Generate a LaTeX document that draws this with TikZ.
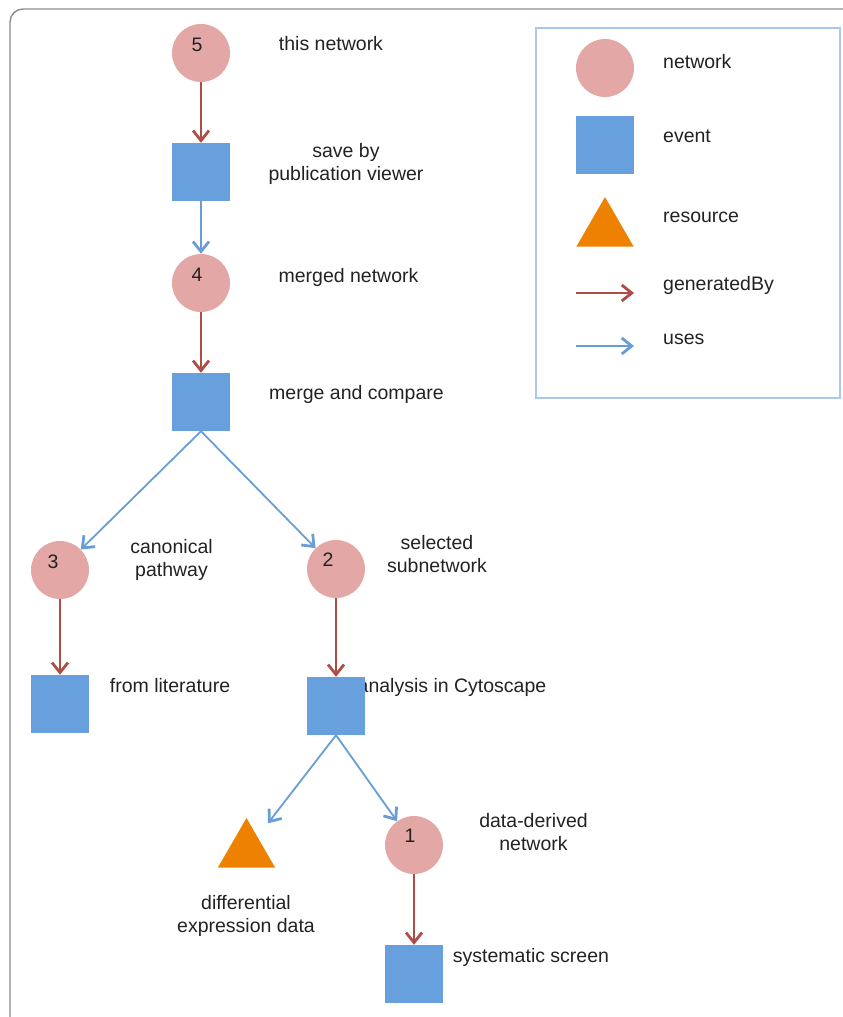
\documentclass[tikz,border=0pt]{standalone}
\usepackage{fontspec}
\setmainfont{Liberation Sans}
\usepackage{tikz}
\usetikzlibrary{shapes.geometric, arrows.meta, positioning}
\definecolor{netpink}{RGB}{227,167,165}
\definecolor{evblue}{RGB}{104,160,221}
\definecolor{resorange}{RGB}{238,130,0}
\definecolor{genred}{RGB}{176,76,70}
\definecolor{useblue}{RGB}{104,157,214}
\definecolor{legblue}{RGB}{169,201,236}
\definecolor{framegray}{RGB}{140,140,140}
\definecolor{txtgray}{RGB}{34,34,34}
\tikzset{
  net/.style={circle, fill=netpink, minimum size=58pt, inner sep=0pt},
  ev/.style={rectangle, fill=evblue, minimum size=58pt, inner sep=0pt},
  res/.style={regular polygon, regular polygon sides=3, fill=resorange,
    minimum size=66pt, inner sep=0pt},
  num/.style={font=\fontsize{19.5}{23}\selectfont, text=txtgray, inner sep=0pt},
  lbl/.style={font=\fontsize{19.5}{23}\selectfont, text=txtgray, align=center,
    inner sep=0pt, anchor=base},
  leglbl/.style={font=\fontsize{19.5}{23}\selectfont, text=txtgray,
    inner sep=0pt, anchor=base west},
  gen/.style={-{Straight Barb[length=10pt, width=16pt, line width=2.8pt]},
    line width=1.8pt, genred},
  use/.style={-{Straight Barb[length=10pt, width=16pt, line width=2.8pt]},
    line width=1.8pt, useblue},
  frame/.style={draw=framegray, line width=1.4pt, rounded corners=13pt},
  legbox/.style={draw=legblue, line width=1.6pt}
}

\begin{document}
\begin{tikzpicture}[x=1pt, y=-1pt]
  \useasboundingbox (0,0) rectangle (843,1017);
  \clip (0,0) rectangle (843,1017);
  \draw[frame] (10,9) rectangle (900,1030);

  % legend
  \draw[legbox] (536,28) rectangle (840,398);
  \node[net] (lnet) at (605,68) {};
  \node[ev] (lev) at (605,145) {};
  \node[res] (lres) at (605,230) {};
  \coordinate (lg0) at (576,293);
  \coordinate (lg1) at (634,293);
  \coordinate (lu0) at (576,346);
  \coordinate (lu1) at (634,346);
  \draw[gen] (lg0) -- (lg1);
  \draw[use] (lu0) -- (lu1);
  \node[leglbl] (tlnet) at (663,68) {network};
  \node[leglbl] (tlev) at (663,142) {event};
  \node[leglbl] (tlres) at (663,222) {resource};
  \node[leglbl] (tlgen) at (663,290) {generatedBy};
  \node[leglbl] (tluse) at (663,344) {uses};

  % main chain
  \node[net] (n5) at (201,53) {};
  \node[num] (n5n) at ([shift={(-4pt,8pt)}]n5.center) {5};
  \node[ev] (save) at (201,172) {};
  \node[net] (n4) at (201,283) {};
  \node[num] (n4n) at ([shift={(-4pt,8pt)}]n4.center) {4};
  \node[ev] (merge) at (201,402) {};

  \node[net] (n3) at (60,570) {};
  \node[num] (n3n) at ([shift={(-7pt,8pt)}]n3.center) {3};
  \node[ev] (lit) at (60,704) {};

  \node[net] (n2) at (336,569) {};
  \node[num] (n2n) at ([shift={(-8pt,9pt)}]n2.center) {2};
  \node[lbl] (tcyto) at (452,692) {analysis in Cytoscape};
  \node[ev] (cyto) at (336,706) {};

  \node[res] (dat) at (246.5,851) {};
  \node[net] (n1) at (414,845) {};
  \node[num] (n1n) at ([shift={(-4pt,9pt)}]n1.center) {1};
  \node[ev] (screen) at (414,974) {};

  % labels (base = last line)
  \node[lbl] (t5) at (331,50) {this network};
  \node[lbl] (tsave) at (346,180) {save by\\publication viewer};
  \node[lbl] (t4) at (348.5,282) {merged network};
  \node[lbl] (tmerge) at (356.5,399) {merge and compare};
  \node[lbl] (t3) at (171.5,576) {canonical\\pathway};
  \node[lbl] (t2) at (437,572) {selected\\subnetwork};
  \node[lbl] (tlit) at (170,692) {from literature};
  \node[lbl] (t1) at (533.5,850) {data-derived\\network};
  \node[lbl] (tdat) at (246,932) {differential\\expression data};
  \node[lbl] (tscreen) at (531,962) {systematic screen};

  % edges
  \draw[gen] (n5) -- (save);
  \draw[use] (save) -- (n4);
  \draw[gen] (n4) -- (merge);
  \draw[use] (merge.south) -- (n3);
  \draw[use] (merge.south) -- (n2);
  \draw[gen] (n3) -- (lit);
  \draw[gen] (n2) -- (cyto);
  \draw[use, shorten >=17pt] (cyto.south) -- (dat);
  \draw[use] (cyto.south) -- (n1);
  \draw[gen] (n1) -- (screen);
\end{tikzpicture}
\end{document}
